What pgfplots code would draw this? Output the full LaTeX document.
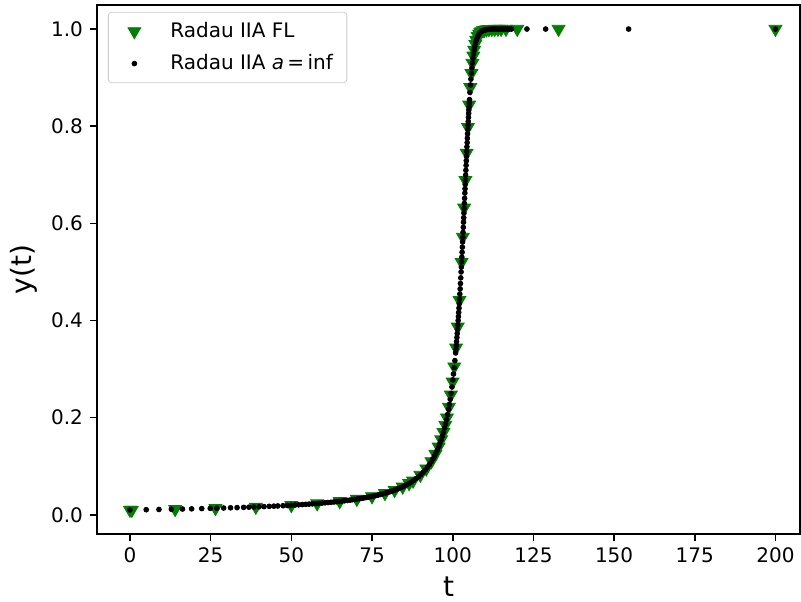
\documentclass[border=0pt]{standalone}
\usepackage{fontspec}
\setmainfont{DejaVu Sans}
\usepackage{pgfplots}
\pgfplotsset{compat=1.18}
\definecolor{mplgreen}{HTML}{008000}
\begin{document}
\begin{tikzpicture}
\useasboundingbox (-48.5pt,-33.5pt) rectangle (352pt,267pt);
\begin{axis}[
  at={(0,0)}, anchor=south west,
  scale only axis, width=351.5pt, height=264.5pt,
  xmin=-10.2, xmax=207.6, ymin=-0.0395, ymax=1.0495,
  xtick={0,25,...,200}, ytick={0,0.2,0.4,0.6,0.8,1.0},
  yticklabel style={/pgf/number format/.cd, fixed, fixed zerofill, precision=1},
  xticklabel style={/pgf/number format/.cd, fixed},
  /pgf/number format/assume math mode=true,
  tick align=outside, tick pos=left, major tick length=3.5pt,
  every tick/.style={black, line width=0.8pt},
  axis line style={line width=0.8pt},
  ticklabel style={font=\fontsize{10}{12}\selectfont},
  xlabel={t}, ylabel={y(t)},
  label style={font=\fontsize{14}{17}\selectfont},
  legend cell align=left,
  legend style={at={(0.0156,0.987)}, anchor=north west, draw=black!20, rounded corners=1.5pt,
    font=\fontsize{10}{12}\selectfont, inner xsep=5pt, inner ysep=3pt, row sep=3pt},
  legend image code/.code={\pgfpathmoveto{\pgfqpoint{0pt}{-2pt}}\pgfpathlineto{\pgfqpoint{24pt}{2pt}}\pgfusepath{discard}\draw[#1] plot coordinates {(8pt,0pt)};},
]
\addplot[only marks, mark=triangle*, mark size=3.7pt, mplgreen,
  mark options={rotate=180, fill=mplgreen, draw=mplgreen}] coordinates {
(0,0.01) (0.6,0.01006) (14,0.01161) (26.5,0.01355) (39,0.01626) (50,0.01973) (58,0.02333)
(65,0.02775) (70.3,0.03237) (75,0.0379) (79,0.0444) (82,0.0508) (84.5,0.0578) (86.5,0.0648)
(87.72,0.07) (89.98,0.082) (91.82,0.095) (93.41,0.11) (94.65,0.125) (95.64,0.14) (96.45,0.155)
(97.13,0.17) (97.71,0.185) (98.21,0.2) (98.84,0.222) (99.43,0.247) (99.97,0.274) (100.49,0.305)
(101.04,0.344) (101.55,0.387) (102.10,0.442) (102.75,0.52) (103.14,0.572) (103.55,0.632)
(103.94,0.689) (104.32,0.745) (104.72,0.798) (105.10,0.844) (105.45,0.88) (105.8,0.909)
(106.11,0.93) (106.4,0.945) (106.65,0.957) (107.0,0.969) (107.32,0.977) (107.76,0.985)
(108.18,0.99) (108.54,0.993) (108.88,0.995) (109.40,0.997) (109.81,0.998) (110.50,0.999)
(111.2,0.9995) (112.1,0.9998) (113,0.9999) (114,1.0) (115,1.0) (116.5,1.0) (120,1.0)
(132.8,1.0) (200,1.0)
};
\addlegendentry{Radau IIA FL}
\addplot[only marks, mark=*, mark size=1.2pt, black] coordinates {
(0,0.01) (5.05,0.010526) (8.99,0.010977) (12.84,0.011455) (16.28,0.011919) (19.11,0.01233)
(22.25,0.012821) (24.89,0.013263) (26.91,0.013624) (29.04,0.014025) (31.17,0.014451)
(33.2,0.014881) (35.23,0.015337) (36.86,0.015723) (38.38,0.016103) (40.01,0.016529)
(41.54,0.016949) (43.16,0.017422) (44.59,0.017857) (45.81,0.018248) (47.44,0.018797)
(48.77,0.019268) (49.99,0.019724) (51.11,0.020161) (52.23,0.020619) (53.36,0.021097)
(54.48,0.021598) (55.5,0.022075) (56.53,0.022573) (57.55,0.023095) (58.57,0.023641)
(59.5,0.024155) (60.42,0.024691) (61.34,0.025253) (62.27,0.02584) (63.19,0.026455)
(64.01,0.027027) (64.83,0.027624) (65.66,0.028249) (66.48,0.028902) (67.31,0.029586)
(68.13,0.030303) (68.85,0.03096) (69.57,0.031646) (70.3,0.032362) (71.02,0.033113)
(71.75,0.033898) (72.47,0.034722) (73.2,0.035587) (73.92,0.036496) (74.65,0.037453)
(75.38,0.038462) (76.11,0.039526) (76.83,0.04065) (77.56,0.041841) (78.3,0.043103)
(79.03,0.044444) (79.76,0.045872) (80.49,0.047393) (81.23,0.04902) (81.97,0.050761)
(82.71,0.052632) (83.44,0.054645) (84.19,0.056818) (84.93,0.059172) (85.67,0.061728)
(86.42,0.064516) (87.17,0.067568) (87.92,0.070922) (88.68,0.074627) (89.44,0.07874)
(90.2,0.083333) (90.85,0.087719) (91.51,0.092593) (92.18,0.098039) (92.73,0.103093)
(93.29,0.108696) (93.85,0.114943) (94.31,0.120482) (94.76,0.126582) (95.22,0.133333)
(95.69,0.140845) (96.04,0.147059) (96.39,0.153846) (96.75,0.16129) (97.11,0.169492)
(97.47,0.178571) (97.78,0.186916) (98.08,0.196078) (98.4,0.206186) (98.71,0.217391)
(98.97,0.227273) (99.23,0.238095) (99.5,0.25) (99.77,0.263158) (100.04,0.277778)
(100.25,0.289855) (100.46,0.30303) (100.68,0.31746) (100.9,0.333333) (101.0,0.340716)
(101.1,0.348432) (101.2,0.356506) (101.3,0.364964) (101.4,0.373134) (101.49,0.381679)
(101.59,0.390625) (101.69,0.4) (101.77,0.408163) (101.86,0.416667) (101.95,0.425532)
(102.03,0.434783) (102.12,0.444444) (102.21,0.454545) (102.31,0.465116) (102.4,0.47619)
(102.5,0.487805) (102.6,0.5) (102.68,0.510204) (102.76,0.520833) (102.83,0.530504)
(102.91,0.540541) (102.99,0.550964) (103.06,0.561798) (103.13,0.571429) (103.2,0.581395)
(103.28,0.591716) (103.35,0.60241) (103.41,0.611621) (103.48,0.621118) (103.55,0.630915)
(103.62,0.641026) (103.69,0.651466) (103.76,0.662252) (103.82,0.671141) (103.88,0.680272)
(103.94,0.689655) (104.01,0.699301) (104.08,0.70922) (104.15,0.719424) (104.21,0.728863)
(104.28,0.738007) (104.35,0.747943) (104.41,0.757576) (104.48,0.766284) (104.54,0.775194)
(104.61,0.784314) (104.68,0.793651) (104.75,0.801925) (104.81,0.809717) (104.88,0.818331)
(104.95,0.826446) (105.0,0.833333) (105.07,0.840336) (105.13,0.847458) (105.2,0.854701)
(105.34,0.869565) (105.51,0.884956) (105.64,0.896861) (105.8,0.909091) (105.95,0.919963)
(106.11,0.930233) (106.28,0.93985) (106.46,0.948767) (106.65,0.956938) (106.86,0.96432)
(107.07,0.970874) (107.3,0.976563) (107.54,0.981354) (107.78,0.985222) (108.01,0.988142)
(108.24,0.990589) (108.48,0.992556) (108.71,0.994036) (108.95,0.995322) (109.19,0.996314)
(109.44,0.997108) (109.67,0.997705) (109.91,0.998203) (110.17,0.998602) (110.41,0.998901)
(110.9,0.99933) (111.4,0.99959) (111.9,0.99975) (112.4,0.99985) (112.9,0.99991)
(113.4,0.99995) (114,0.99997) (114.6,0.99998) (115.2,0.99999) (115.8,1) (116.4,1) (117,1)
(117.6,1) (118.2,1) (123,1) (128.8,1) (154.5,1) (200,1)
};
\addlegendentry{Radau IIA \textit{a}\,=\,inf}
\end{axis}
\end{tikzpicture}
\end{document}
